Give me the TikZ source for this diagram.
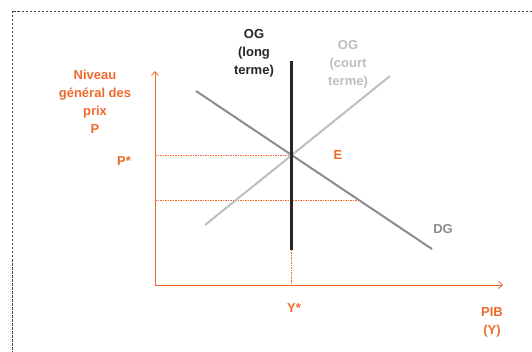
\documentclass[tikz,border=0pt]{standalone}
\usepackage{fontspec}
\setmainfont{Liberation Sans}
\usetikzlibrary{arrows.meta}
\definecolor{orng}{HTML}{EE6A2C}
\definecolor{dgray}{HTML}{8C8C8C}
\definecolor{lgray}{HTML}{BEBEBE}
\definecolor{frame}{HTML}{444444}
\tikzset{
  lbl/.style={font=\fontsize{13}{18}\selectfont\bfseries, align=center, inner sep=0pt},
  axis/.style={draw=orng, line width=0.8pt, -{Straight Barb[length=4pt,width=7pt]}},
  guide/.style={draw=orng, line width=0.5pt, dash pattern=on 1.5pt off 1pt},
}
\begin{document}
\begin{tikzpicture}[x=1pt,y=-1pt]
\useasboundingbox (0,0) rectangle (532,352);
% frame
\coordinate (f1) at (12,11);
\coordinate (f2) at (540,11);
\coordinate (f3) at (12,360);
\draw[frame, line width=0.6pt, dash pattern=on 2.5pt off 1.5pt] (f2) -- (f1) -- (f3);
% axes
\coordinate (O) at (155,285);
\coordinate (yt) at (155,71);
\coordinate (xt) at (503,285);
\draw[axis] (O) -- (yt);
\draw[axis] (O) -- (xt);
% guides
\coordinate (E) at (291,155);
\coordinate (pP) at (155,155);
\coordinate (l1) at (155,200);
\coordinate (l2) at (358,200);
\coordinate (ys) at (291,285);
\coordinate (ogb) at (291,250);
\coordinate (ogt) at (291,61);
\draw[guide] (pP) -- (E);
\draw[guide] (l1) -- (l2);
\draw[guide] (ogb) -- (ys);
% curves
\coordinate (dg1) at (196,91);
\coordinate (dg2) at (432,249);
\coordinate (os1) at (205,225);
\coordinate (os2) at (390,76);
\draw[lgray, line width=2pt] (os1) -- (os2);
\draw[dgray, line width=2pt] (dg1) -- (dg2);
\draw[black!85, line width=3pt] (ogb) -- (ogt);
% labels
\node[lbl, text=black!85] (oglong) at (254,53) {OG\\(long\\terme)};
\node[lbl, text=lgray] (ogcourt) at (348,64) {OG\\(court\\terme)};
\node[lbl, text=orng] (ylab) at (95,102) {Niveau\\général des\\prix\\P};
\node[lbl, text=orng] (pstar) at (124,161) {P*};
\node[lbl, text=orng] (elab) at (338,155) {E};
\node[lbl, text=dgray] (dglab) at (443,229) {DG};
\node[lbl, text=orng] (ystar) at (294,308) {Y*};
\node[lbl, text=orng] (xlab) at (492,322) {PIB\\(Y)};
\end{tikzpicture}
\end{document}
